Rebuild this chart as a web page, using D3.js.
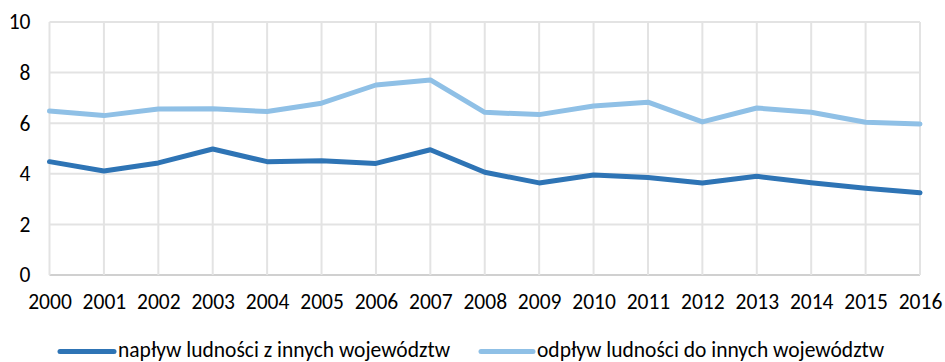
<!DOCTYPE html>
<html>
<head>
<meta charset="utf-8">
<script src="https://cdn.jsdelivr.net/npm/d3@7"></script>
<style>
  html, body { margin: 0; padding: 0; background: #fff; }
  svg { display: block; }
  text { font-family: "Carlito", "Lato", sans-serif; fill: #000; }
</style>
</head>
<body>
<svg id="chart" width="945" height="362"></svg>
<script>
// Migration between voivodeships, 2000–2016
const years = ["2000","2001","2002","2003","2004","2005","2006","2007","2008","2009","2010","2011","2012","2013","2014","2015","2016"];
const inflow  = [4.48, 4.11, 4.43, 4.98, 4.48, 4.52, 4.41, 4.95, 4.06, 3.64, 3.95, 3.85, 3.64, 3.90, 3.65, 3.43, 3.25];
const outflow = [6.48, 6.30, 6.56, 6.57, 6.46, 6.79, 7.51, 7.71, 6.43, 6.34, 6.68, 6.83, 6.05, 6.60, 6.43, 6.04, 5.97];
const yTicks = [0, 2, 4, 6, 8, 10];
const seriesNames = ["napływ ludności z innych województw", "odpływ ludności do innych województw"];
const seriesColors = ["#2e74b5", "#8fc0e6"];

const svg = d3.select("#chart");
const plot = { left: 49.5, right: 920, top: 22, bottom: 275 };
const fontSize = "21.5px";

const x = d3.scalePoint().domain(years).range([plot.left, plot.right]);
const y = d3.scaleLinear().domain([0, 10]).range([plot.bottom, plot.top]);

// horizontal gridlines
svg.append("g").selectAll("line").data(yTicks).join("line")
  .attr("x1", plot.left).attr("x2", plot.right)
  .attr("y1", d => y(d)).attr("y2", d => y(d))
  .attr("stroke", d => d === 0 ? "#d0d0d0" : "#e3e3e3")
  .attr("stroke-width", 2);

// vertical gridlines
svg.append("g").selectAll("line").data(years).join("line")
  .attr("x1", d => x(d)).attr("x2", d => x(d))
  .attr("y1", plot.top).attr("y2", plot.bottom)
  .attr("stroke", "#e3e3e3")
  .attr("stroke-width", 2);

// y axis labels
const yAxis = svg.append("g")
  .attr("transform", `translate(${plot.left},0)`)
  .call(d3.axisLeft(y).tickValues(yTicks).tickSize(0).tickPadding(19));
yAxis.select(".domain").remove();
yAxis.selectAll("text").style("font-size", fontSize).attr("fill", "#000");

// x axis labels
const xAxis = svg.append("g")
  .attr("transform", `translate(0,${plot.bottom})`)
  .call(d3.axisBottom(x).tickSize(0).tickPadding(19));
xAxis.select(".domain").remove();
xAxis.selectAll("text").style("font-size", fontSize).attr("fill", "#000");

// series lines
const line = d3.line().x((d, i) => x(years[i])).y(d => y(d));
[inflow, outflow].forEach((vals, k) => {
  svg.append("path")
    .datum(vals)
    .attr("fill", "none")
    .attr("stroke", seriesColors[k])
    .attr("stroke-width", 5)
    .attr("stroke-linejoin", "round")
    .attr("stroke-linecap", "round")
    .attr("d", line);
});

// legend
const legendItems = [
  { x1: 60, x2: 114, tx: 118 },
  { x1: 481, x2: 533, tx: 537 }
];
legendItems.forEach((it, k) => {
  svg.append("line")
    .attr("x1", it.x1).attr("x2", it.x2)
    .attr("y1", 351.5).attr("y2", 351.5)
    .attr("stroke", seriesColors[k])
    .attr("stroke-width", 5)
    .attr("stroke-linecap", "round");
  svg.append("text")
    .attr("x", it.tx).attr("y", 356.5)
    .style("font-size", fontSize)
    .text(seriesNames[k]);
});
</script>
</body>
</html>
